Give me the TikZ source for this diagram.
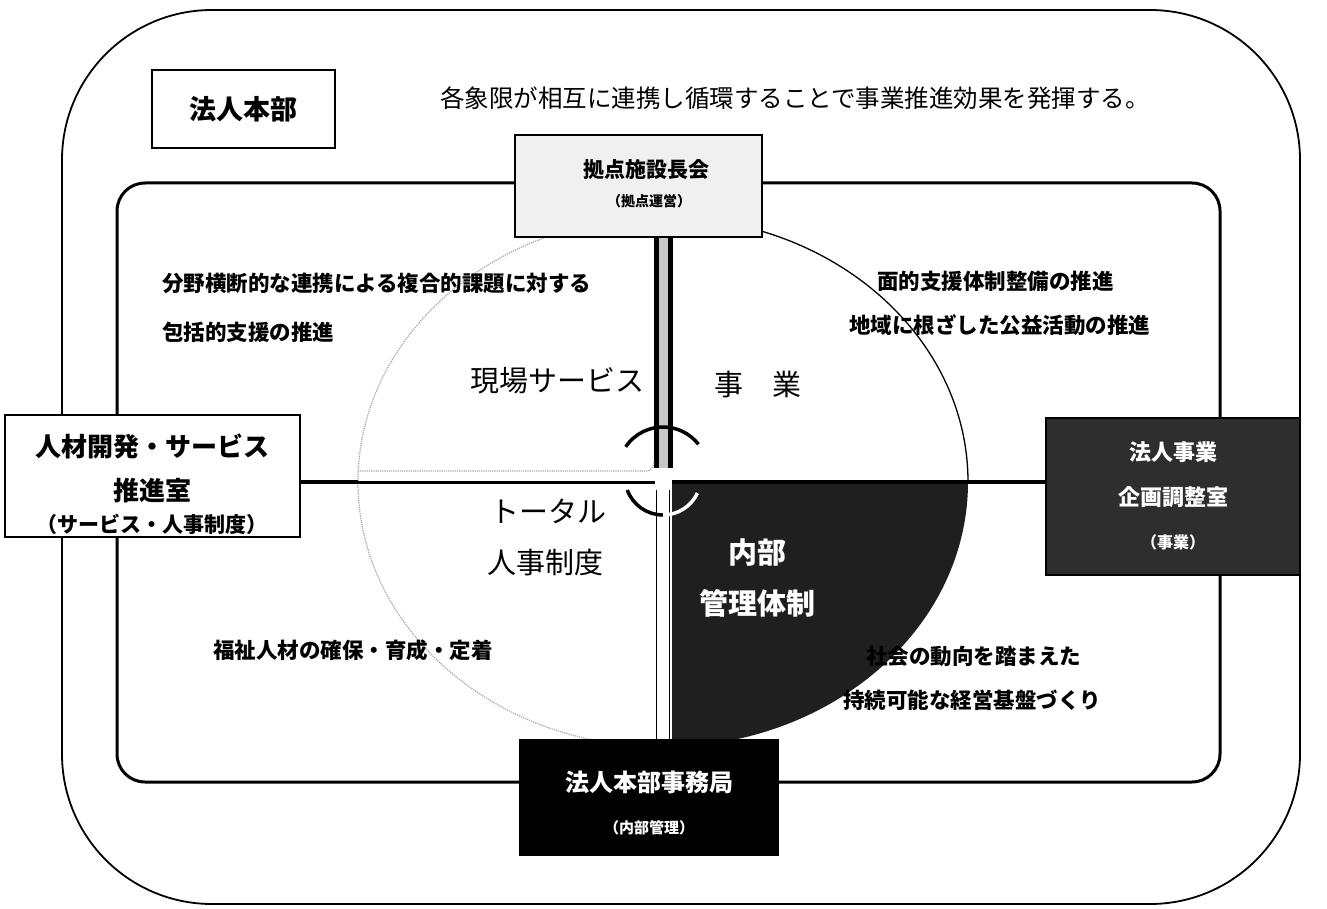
\documentclass[tikz,border=0pt]{standalone}
\usepackage{fontspec}
\setmainfont{Noto Sans CJK JP}
\newcommand{\myfs}[1]{\fontsize{#1}{#1}\selectfont}
\begin{document}
\begin{tikzpicture}[x=1pt,y=-1pt,
  every node/.style={inner sep=0pt, outer sep=0pt},
  boxw/.style={draw=black, line width=1.6pt},
  side/.style={font=\myfs{21.5}\bfseries, anchor=west},
  quad/.style={font=\myfs{29}},
  wquad/.style={font=\myfs{29}\bfseries, text=white},
  btxt/.style={font=\myfs{#1}\bfseries},
  wtxt/.style={font=\myfs{#1}\bfseries, text=white},
  ell/.style={x radius=305pt, y radius=265pt},
]
\useasboundingbox (0,0) rectangle (1327,909);
\fill[white] (0,0) rectangle (1327,909);
% frames
\draw[line width=1.8pt, rounded corners=150pt] (62,10) rectangle (1300,904);
\draw[line width=3pt, rounded corners=28pt] (117,183) rectangle (1220,782);
\coordinate (C) at (663,482);
% dark quadrant
\fill[black!88] (672,482) -- (968,482) arc[start angle=0, end angle=-90, ell] -- (672,747) -- cycle;
% ellipse outline
\draw[gray!70, densely dotted, line width=1.2pt] (C) ++(0pt,265pt) arc[start angle=90, end angle=270, ell];
\draw[black, line width=1.3pt] (C) ++(305pt,0pt) arc[start angle=0, end angle=90, ell];
% center lines
\draw[line width=5pt, double=gray!45, double distance=9pt] (663,237) -- (663,468);
\draw[line width=1.2pt, double=white, double distance=12pt] (663,490) -- (663,740);
\draw[gray!70, densely dotted, line width=1.2pt] (358,471) -- (646,471) to[out=0,in=-90] (654,462);
% cycle arcs
\draw[line width=3.5pt] (663,472) ++(146:45pt) arc[start angle=146, end angle=38, radius=45pt];
\draw[line width=3.5pt] (663,477) ++(200:38pt) arc[start angle=200, end angle=270, radius=38pt];
\draw[white, line width=3.5pt] (663,477) ++(270:38pt) arc[start angle=270, end angle=335, radius=38pt];
% boxes
\node[boxw, line width=2pt, minimum width=183pt, minimum height=78pt, btxt=27] (hq) at (243.5,109) {法人本部};
\node[boxw, line width=1.3pt, fill=gray!12, minimum width=247pt, minimum height=102pt] (top) at (638.5,186) {};
\node[boxw, line width=1.3pt, fill=white, minimum width=295pt, minimum height=122pt] (left) at (152.5,476) {};
\node[boxw, line width=2pt, fill=black!82, minimum width=254pt, minimum height=157pt] (right) at (1173,496.5) {};
\node[boxw, line width=2pt, fill=black, minimum width=258pt, minimum height=115pt] (bot) at (649,797.5) {};
% horizontal connectors
\draw[line width=4.5pt] (left.east |- C) -- (358,482);
\draw[line width=3pt] (358,482) -- (655,482);
\draw[line width=4pt] (right.west |- C) -- (672,482);
% box texts
\node[btxt=21] (top1) at (646,170) {拠点施設長会};
\node[btxt=14] (top2) at (649,201) {（拠点運営）};
\node[btxt=26] (left1) at (152,446) {人材開発・サービス};
\node[btxt=26] (left2) at (152,491) {推進室};
\node[btxt=21] (left3) at (152,524) {（サービス・人事制度）};
\node[wtxt=22] (right1) at (1173,452) {法人事業};
\node[wtxt=22] (right2) at (1173,497) {企画調整室};
\node[wtxt=16] (right3) at (1173,542) {（事業）};
\node[wtxt=24] (bot1) at (649,782) {法人本部事務局};
\node[wtxt=15] (bot2) at (649,828) {（内部管理）};
% title
\node[font=\myfs{24.5}] (title) at (795,98) {各象限が相互に連携し循環することで事業推進効果を発揮する。};
% quadrant labels
\node[quad] (q1) at (557,381) {現場サービス};
\node[quad] (q2) at (758,385) {事\hspace{1em}業};
\node[quad] (q3) at (548,511) {トータル};
\node[quad] (q3b) at (545,563) {人事制度};
\node[wquad] (q4) at (757,553) {内部};
\node[wquad] (q4b) at (757,603) {管理体制};
% side texts
\node[side] (s1) at (162,283) {分野横断的な連携による複合的課題に対する};
\node[side] (s2) at (162,332) {包括的支援の推進};
\node[side] (s3) at (877,281) {面的支援体制整備の推進};
\node[side] (s4) at (849,325) {地域に根ざした公益活動の推進};
\node[side] (s5) at (213,650) {福祉人材の確保・育成・定着};
\node[side] (s6) at (866,656) {社会の動向を踏まえた};
\node[side] (s7) at (843,700) {持続可能な経営基盤づくり};
\end{tikzpicture}
\end{document}
